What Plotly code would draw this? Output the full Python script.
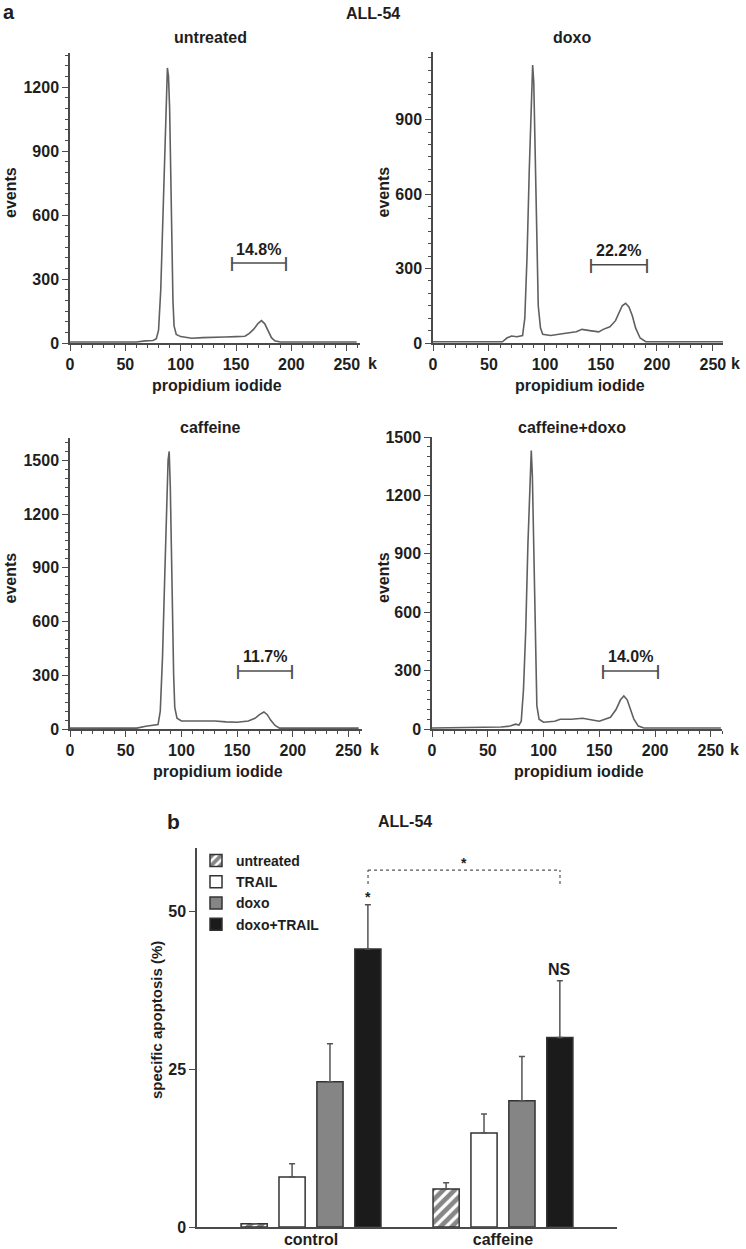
import plotly.graph_objects as go

W, H = 746, 1249

# ---------------- Panel a: DNA content histograms ----------------
untreated_x = [0, 60, 68, 75, 78, 80, 82, 84, 86, 87, 88, 89, 90, 91, 92, 93, 94, 96, 100, 110, 120, 130, 140, 150, 158, 162, 166, 170, 173, 176, 179, 182, 185, 190, 259]
untreated_y = [5, 5, 10, 12, 20, 60, 250, 600, 1000, 1200, 1290, 1250, 1100, 800, 450, 200, 80, 40, 30, 22, 25, 28, 28, 30, 32, 45, 65, 92, 105, 90, 55, 25, 10, 5, 5]

doxo_x = [0, 62, 66, 70, 75, 80, 82, 84, 86, 88, 89, 90, 91, 92, 93, 94, 96, 98, 105, 115, 120, 128, 133, 140, 148, 152, 158, 163, 166, 169, 172, 175, 178, 181, 185, 190, 259]
doxo_y = [5, 5, 20, 28, 25, 30, 100, 350, 700, 1050, 1120, 1050, 850, 600, 350, 150, 60, 35, 30, 35, 40, 45, 55, 50, 45, 55, 65, 90, 120, 150, 160, 145, 110, 60, 20, 5, 5]

caffeine_x = [0, 60, 68, 75, 79, 81, 83, 85, 87, 88, 89, 90, 91, 92, 93, 94, 96, 100, 110, 120, 130, 140, 150, 160, 166, 170, 174, 177, 180, 184, 188, 259]
caffeine_y = [5, 5, 15, 20, 25, 100, 400, 850, 1300, 1500, 1550, 1350, 1000, 600, 300, 120, 60, 45, 45, 48, 45, 40, 38, 45, 60, 80, 95, 80, 50, 20, 5, 5]

cafdoxo_x = [0, 62, 70, 75, 78, 80, 82, 84, 86, 88, 89, 90, 91, 92, 93, 94, 96, 100, 110, 115, 125, 135, 145, 150, 155, 160, 165, 169, 172, 175, 178, 181, 185, 190, 259]
cafdoxo_y = [5, 10, 15, 25, 20, 40, 200, 500, 950, 1350, 1430, 1300, 1000, 650, 300, 120, 50, 35, 40, 50, 50, 55, 45, 40, 50, 60, 100, 150, 170, 150, 100, 50, 15, 5, 5]

hist_titles = ["untreated", "doxo", "caffeine", "caffeine+doxo"]
gate_labels = ["14.8%", "22.2%", "11.7%", "14.0%"]
gate_start = [146, 141, 151, 153]
gate_end = [195, 191, 199, 203]
gate_level = [375, 315, 324, 298]
y_max = [1360, 1173, 1625, 1500]
x_max = [262, 259, 262, 260]
x_ticks = [0, 50, 100, 150, 200, 250]
y_ticks = [0, 300, 600, 900, 1200, 1500]

# ---------------- Panel b: specific apoptosis ----------------
groups = ["control", "caffeine"]
treatments = ["untreated", "TRAIL", "doxo", "doxo+TRAIL"]
apoptosis = {
    "untreated": [0.5, 6.0],
    "TRAIL": [7.9, 14.9],
    "doxo": [23.0, 20.0],
    "doxo+TRAIL": [44.0, 30.0],
}
apoptosis_err = {
    "untreated": [0.0, 1.0],
    "TRAIL": [2.1, 3.0],
    "doxo": [6.0, 7.0],
    "doxo+TRAIL": [7.0, 9.0],
}
bar_y_ticks = [0, 25, 50]

FONT = "Liberation Sans, Arial, sans-serif"
AX = "#4a4a4a"
LINE = "#606060"
TXT = "#1e1e1e"


def px(x):
    return x / W


def py(y):
    return 1 - y / H


def bold(v):
    return f"<b>{v}</b>"


def label(x, y, text, size=16, angle=0, color=TXT):
    return dict(xref="paper", yref="paper", x=px(x), y=py(y), text=bold(text),
                textangle=angle, showarrow=False, xanchor="center", yanchor="middle",
                font=dict(size=size, weight="bold", color=color))


fig = go.Figure()

# panel geometry (pixels): x-left, x-right, y-top, y-bottom
panels = [
    (70, 360, 53, 343),
    (433, 723, 52, 343),
    (70, 362, 438, 729),
    (432, 722, 437, 729),
]
series = [(untreated_x, untreated_y), (doxo_x, doxo_y), (caffeine_x, caffeine_y), (cafdoxo_x, cafdoxo_y)]

layout = dict(
    width=W, height=H,
    margin=dict(l=0, r=0, t=0, b=0, autoexpand=False),
    paper_bgcolor="white", plot_bgcolor="white",
    font=dict(family=FONT, size=16, color=TXT, weight="bold"),
    showlegend=True,
)
annotations = []
shapes = []
tf = dict(size=16, family=FONT, weight="bold", color=TXT)

for i, ((x0, x1, y0, y1), (sx, sy)) in enumerate(zip(panels, series)):
    n = i + 1
    xa = "x" if n == 1 else f"x{n}"
    ya = "y" if n == 1 else f"y{n}"
    fig.add_trace(go.Scatter(x=sx, y=sy, mode="lines", xaxis=xa, yaxis=ya,
                             line=dict(color=LINE, width=1.6), showlegend=False,
                             hoverinfo="skip"))
    xkey = "xaxis" if n == 1 else f"xaxis{n}"
    ykey = "yaxis" if n == 1 else f"yaxis{n}"
    layout[xkey] = dict(
        domain=[px(x0), px(x1)], anchor=ya, range=[0, x_max[i]], automargin=False,
        showline=True, linecolor=AX, linewidth=1.5, showgrid=False, zeroline=False,
        ticks="outside", ticklen=6, tickcolor=AX, tickwidth=1.2,
        tickvals=x_ticks, ticktext=[bold(v) for v in x_ticks],
        minor=dict(dtick=10, ticks="outside", ticklen=3, tickcolor=AX, showgrid=False),
        tickfont=tf,
    )
    layout[ykey] = dict(
        domain=[py(y1), py(y0)], anchor=xa, range=[0, y_max[i]], automargin=False,
        showline=True, linecolor=AX, linewidth=1.5, showgrid=False, zeroline=False,
        ticks="outside", ticklen=6, tickcolor=AX, tickwidth=1.2,
        tickvals=y_ticks, ticktext=[bold(v) for v in y_ticks],
        minor=dict(dtick=50, ticks="outside", ticklen=3, tickcolor=AX, showgrid=False),
        tickfont=tf,
    )
    # gate bracket
    shapes.append(dict(type="line", xref=xa, yref=ya, x0=gate_start[i], x1=gate_end[i],
                       y0=gate_level[i], y1=gate_level[i], line=dict(color=AX, width=1.5)))
    annotations.append(dict(xref=xa, yref=ya, x=(gate_start[i] + gate_end[i]) / 2, y=gate_level[i],
                            yshift=14, text=bold(gate_labels[i]), showarrow=False,
                            xanchor="center", yanchor="middle",
                            font=dict(size=16, weight="bold")))
    for gx in (gate_start[i], gate_end[i]):
        annotations.append(dict(xref=xa, yref=ya, x=gx, y=gate_level[i], text="|",
                                xanchor="center", yanchor="middle",
                                showarrow=False, font=dict(size=14, color=AX)))
    cx = (x0 + x1) / 2
    # subplot title
    annotations.append(label(210 if n in (1, 3) else 572, 37 if n in (1, 2) else 427, hist_titles[i]))
    # x axis title
    annotations.append(label(cx + 2, y1 + 42, "propidium iodide"))
    # y axis title
    annotations.append(label(10 if n in (1, 3) else 383, (y0 + y1) / 2 - 5, "events", angle=-90))
    # "k" unit
    annotations.append(label(x1 + 12, y1 + 20, "k"))

annotations.append(label(373, 14, "ALL-54"))
annotations.append(label(9, 12, "a", size=20))
annotations.append(label(173, 821, "b", size=21))

# ---------------- bar chart ----------------
bar_styles = {
    "untreated": dict(color="white", pattern=dict(shape="/", fgcolor="#0d0d0d", bgcolor="white",
                                                   size=8, solidity=0.6)),
    "TRAIL": dict(color="white"),
    "doxo": dict(color="#858585"),
    "doxo+TRAIL": dict(color="#1b1b1b"),
}
for t in treatments:
    fig.add_trace(go.Bar(
        x=groups, y=apoptosis[t], name=bold(t), xaxis="x5", yaxis="y5",
        marker=dict(line=dict(color="#333", width=1.5), **bar_styles[t]),
        error_y=dict(type="data", array=apoptosis_err[t], arrayminus=[0] * len(groups),
                     symmetric=False, color="#555", thickness=1.5, width=3),
    ))

layout["xaxis5"] = dict(domain=[px(197), px(617)], anchor="y5", range=[-0.594, 1.594], automargin=False,
                        showline=True, linecolor=AX, linewidth=1.5, ticks="",
                        tickvals=groups, ticktext=[bold(g) for g in groups],
                        ticklabelstandoff=-3,
                        tickfont=tf, showgrid=False)
layout["yaxis5"] = dict(domain=[py(1227), py(848)], anchor="x5", range=[0, 60], automargin=False,
                        showline=True, linecolor=AX, linewidth=1.5, ticks="outside", ticklen=6,
                        tickcolor=AX, tickvals=bar_y_ticks, ticktext=[bold(v) for v in bar_y_ticks],
                        showgrid=False, zeroline=False, tickfont=tf)
layout["barmode"] = "group"
layout["bargap"] = 0.21
layout["bargroupgap"] = 0.31
layout["legend"] = dict(x=px(196), y=py(845), xanchor="left", yanchor="top",
                        font=dict(size=14, weight="bold"), bgcolor="rgba(0,0,0,0)",
                        tracegroupgap=0, itemwidth=30)

annotations.append(label(405, 821, "ALL-54"))
annotations.append(label(156, 1020, "specific apoptosis (%)", size=15, angle=-90))

# significance bracket
br_left, br_right, br_top, br_bottom = 0.297, 1.297, 56.5, 54.3
for (a0, a1, b0, b1) in [(br_left, br_right, br_top, br_top), (br_left, br_left, br_bottom, br_top),
                         (br_right, br_right, br_bottom, br_top)]:
    shapes.append(dict(type="line", xref="x5", yref="y5", x0=a0, x1=a1, y0=b0, y1=b1,
                       line=dict(color="#555", width=1.2, dash="dot")))
annotations.append(dict(xref="x5", yref="y5", x=(br_left + br_right) / 2, y=br_top, yshift=7,
                        xanchor="center", yanchor="middle",
                        text=bold("*"), showarrow=False, font=dict(size=14, weight="bold")))
annotations.append(dict(xref="x5", yref="y5", x=br_left, y=52.2, text=bold("*"), showarrow=False,
                        xanchor="center", yanchor="middle",
                        font=dict(size=14, weight="bold")))
annotations.append(dict(xref="x5", yref="y5", x=br_right, y=40.8, text=bold("NS"), showarrow=False,
                        xanchor="center", yanchor="middle",
                        font=dict(size=16, weight="bold")))

layout["annotations"] = annotations
layout["shapes"] = shapes
fig.update_layout(**layout)
fig.write_html("out.html", config={"displayModeBar": False},
               post_script="document.body.style.margin='0';document.body.style.padding='0';")
